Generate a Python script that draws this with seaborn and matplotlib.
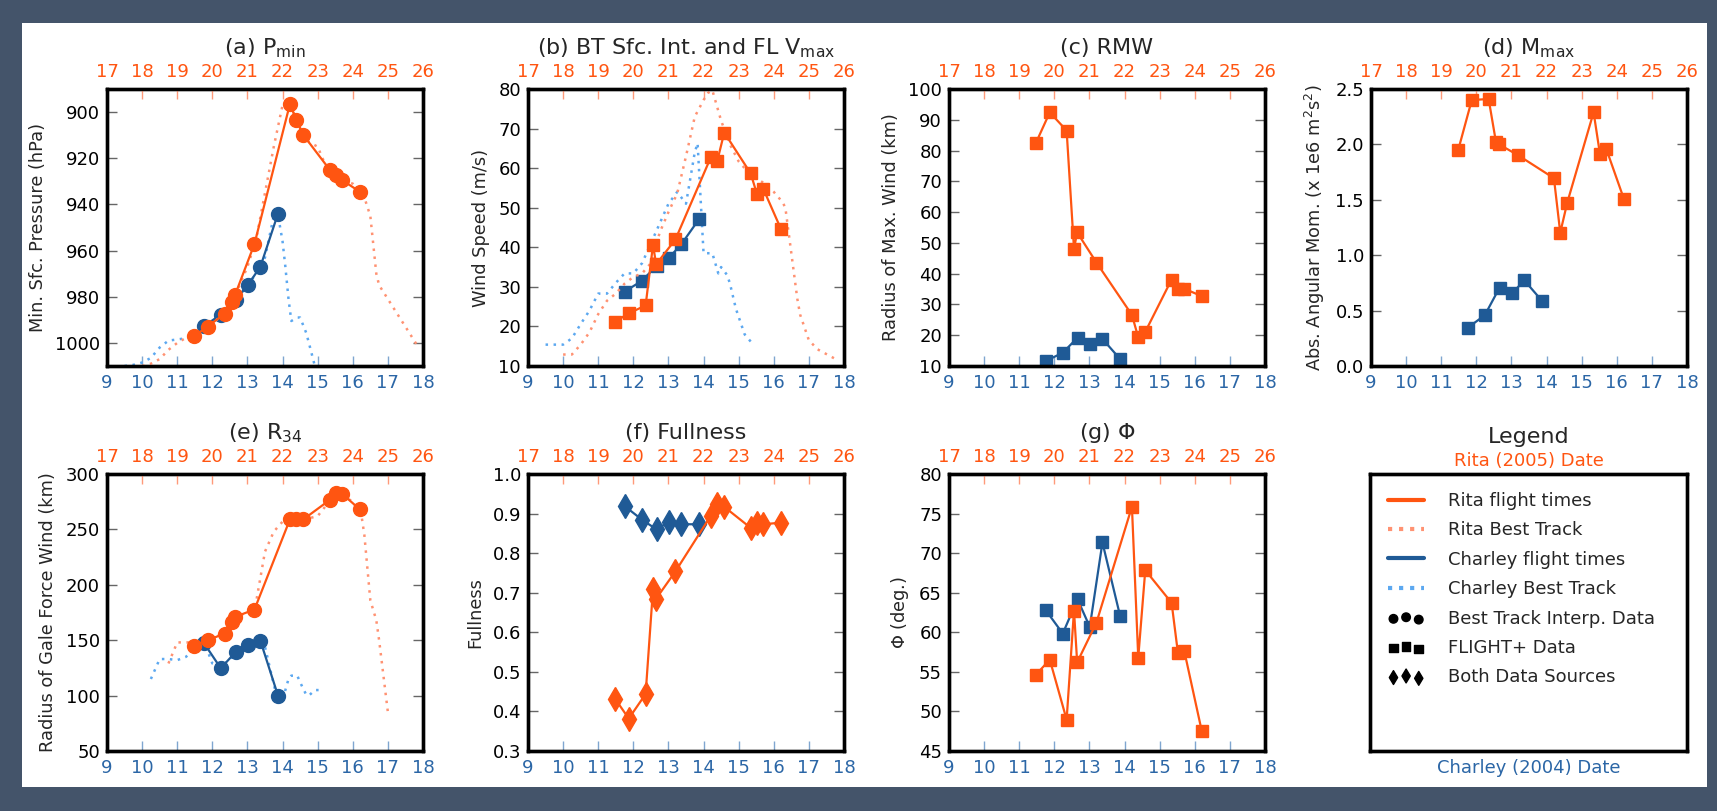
import numpy as np
import matplotlib
matplotlib.use("Agg")
import matplotlib.pyplot as plt
from matplotlib.patches import Rectangle
from matplotlib.lines import Line2D
import seaborn as sns

nan = np.nan

# ---------------- Flight (FLIGHT+) / interpolated data ----------------
# Rita times are in Rita (2005) September dates, Charley in Charley (2004) August dates
rita_t = np.array([19.48, 19.87, 20.35, 20.56, 20.65, 21.20, 22.21, 22.39, 22.59, 23.34, 23.52, 23.70, 24.20])
rita_pmin = np.array([997.1, 992.9, 987.3, 982.2, 979.1, 957.1, 896.5, 903.3, 909.9, 924.9, 927.1, 929.5, 934.5])
rita_vmax = np.array([21.2, 23.3, 25.3, 40.6, 35.7, 42.0, 62.8, 61.8, 69.0, 58.7, 53.5, 54.8, 44.7])
rita_rmw = np.array([82.6, 92.4, 86.5, 48.1, 53.4, 43.6, 26.6, 19.3, 21.1, 38.1, 35.1, 35.1, 32.7])
rita_mmax = np.array([1.945, 2.40, 2.41, 2.02, 2.00, 1.90, 1.695, 1.203, 1.475, 2.29, 1.915, 1.96, 1.51])
rita_r34 = np.array([145.2, 150.0, 156.0, 166.0, 171.1, 177.7, 259.0, 259.0, 259.0, 276.5, 282.5, 282.0, 268.1])
rita_full = np.array([0.432, 0.382, 0.444, 0.709, 0.685, 0.754, 0.895, 0.924, 0.917, 0.864, 0.875, 0.873, 0.877])
rita_phi = np.array([54.65, 56.55, 48.96, 62.75, 56.2, 61.23, 75.87, 56.8, 67.85, 63.72, 57.4, 57.66, 47.5])

char_t = np.array([11.75, 12.24, 12.66, 13.01, 13.37, 13.87])
char_pmin = np.array([992.8, 987.8, 981.3, 975.0, 966.9, 944.0])
char_vmax = np.array([28.8, 31.5, 35.3, 37.3, 40.8, 47.1])
char_rmw = np.array([11.6, 14.3, 19.2, 17.3, 18.8, 12.3])
char_mmax = np.array([0.344, 0.458, 0.706, 0.655, 0.772, 0.588])
char_r34 = np.array([147.9, 124.7, 139.2, 145.8, 149.4, 100.0])
char_full = np.array([0.919, 0.885, 0.860, 0.879, 0.873, 0.873])
char_phi = np.array([62.83, 59.84, 64.18, 60.68, 71.35, 62.12])

# ---------------- Best track ----------------
rbt_t = np.array([18.0, 18.25, 18.5, 18.75, 19.0, 19.25, 19.5, 19.75, 20.0, 20.25, 20.5, 20.75,
                  21.0, 21.25, 21.5, 21.75, 22.0, 22.125, 22.25, 22.5, 22.75, 23.0, 23.25, 23.5,
                  23.75, 24.0, 24.25, 24.33, 24.5, 24.67, 24.75, 25.0, 25.25, 25.5, 25.75, 25.85])
rbt_p = np.array([1010, 1009, 1007, 1003, 1000, 997.8, 996, 994, 992, 988, 983, 976,
                  967, 955, 935, 915, 897, 895, 898, 907, 913, 915, 924, 927,
                  930, 931, 935, 937, 945, 970, 975, 981, 987, 993, 999, 1001.5])
rbt_v = np.array([12.9, 12.9, 15.4, 18.5, 23.1, 26.5, 28.3, 30.8, 32.5, 33.4, 36.0, 43.7,
                  48.9, 53.6, 63.0, 73.0, 77.2, 79.0, 79.7, 72.0, 66.0, 61.7, 59.2, 57.5,
                  56.0, 54.0, 51.4, 50.0, 38.5, 27.0, 23.0, 16.5, 14.2, 13.0, 11.8, 11.4])
rbt_r34 = np.array([nan, nan, nan, 129, 148, 148, 148, 150, 152, 155, 163, 172,
                    175, 185, 230, 248, 257, 259, 259, 259, 260, 262, 272, 280,
                    280, 275, 262, 245, 186, 168, 150, 85, nan, nan, nan, nan])

cbt_t = np.array([9.5, 9.75, 10.0, 10.25, 10.5, 10.75, 11.0, 11.25, 11.5, 11.75, 12.0, 12.25,
                  12.5, 12.75, 13.0, 13.25, 13.5, 13.75, 13.83, 14.0, 14.08, 14.17, 14.25,
                  14.42, 14.5, 14.67, 14.75, 14.92, 15.17, 15.36])
cbt_p = np.array([1010, 1009.5, 1008.5, 1006.5, 1002, 999, 998.5, 998, 996, 993, 990.5, 988,
                  984, 980, 975, 970, 963, 945, 941, 956, 967, 981, 990.5,
                  989, 989, 995.5, 1000, 1010, nan, nan])
cbt_v = np.array([15.4, 15.4, 15.4, 17.0, 20.6, 24.0, 28.3, 28.3, 31.0, 33.4, 33.4, 36.0,
                  41.0, 46.0, 51.0, 54.0, 51.0, 64.0, 66.3, 38.5, 38.5, 38.5, 38.5,
                  33.4, 35.0, 33.0, 30.9, 24.5, 18.0, 16.0])
cbt_r34 = np.array([nan, nan, nan, 115, 133, 133, 132, 135, 143, 150, 129, 126,
                    133, 140, 145, 147, 144, 110, 100, 93, 105, 115, 118,
                    118, 112, 101, 100, 105, 105, nan])

# ---------------- Style ----------------
sns.set_style("ticks")
plt.rcParams["font.family"] = ["DejaVu Sans"]
plt.rcParams["mathtext.fontset"] = "dejavusans"

RITA = "#FF5511"
RITA_BT = "#FF9272"
CHAR = "#1F5A96"
CHAR_BT = "#5CA8F0"
CHAR_TXT = "#2B66A6"
BORDER = "#44546A"
DOT = (0, (1, 2.2))

W, H = 1717, 811
fig = plt.figure(figsize=(W / 100, H / 100), dpi=100)
fig.patch.set_facecolor(BORDER)
fig.add_artist(Rectangle((22 / W, 1 - 787 / H), (1707 - 22) / W, (787 - 23) / H,
                         transform=fig.transFigure, facecolor="white", edgecolor="none", zorder=-10))

lefts = [107 / W, 528 / W, 949 / W, 1371 / W]
aw = 316 / W
ah = 277 / H
top_b = 1 - 366 / H
bot_b = 1 - 751 / H


def style_axes(ax, ax2):
    ax.set_xlim(9, 18)
    ax2.set_xlim(17, 26)
    ax.set_xticks(range(9, 19))
    ax2.set_xticks(range(17, 27))
    ax.tick_params(axis="y", direction="in", left=True, right=True, color="#666666",
                   labelcolor="black", length=7, width=1, labelsize=13, pad=5)
    ax.tick_params(axis="x", direction="in", bottom=True, top=False, color="#7FA6D0",
                   labelcolor=CHAR_TXT, length=7, width=1, labelsize=13, pad=6)
    ax2.tick_params(axis="x", direction="in", top=True, bottom=False, color="#FF9A7A",
                    labelcolor=RITA, length=7, width=1, labelsize=13, pad=6)
    for a in (ax, ax2):
        for s in a.spines.values():
            s.set_linewidth(2.4)
            s.set_color("black")


def line(ax, x, y, color, marker=None, ms=9, ls="-", lw=1.6):
    m = ~np.isnan(y)
    kw = dict(x=x[m], y=y[m], ax=ax, color=color, linestyle=ls, linewidth=lw,
              sort=False, estimator=None)
    if marker is not None:
        kw.update(marker=marker, markersize=ms, markeredgecolor=color, markeredgewidth=1)
    sns.lineplot(**kw)


def panel(rect, title, ylabel, ylim, yticks, cy, ry, marker, ms, cbt=None, rbt=None):
    ax = fig.add_axes(rect)
    ax2 = ax.twiny()
    if cbt is not None:
        line(ax, cbt_t, cbt, CHAR_BT, ls=DOT, lw=1.8)
    line(ax, char_t, cy, CHAR, marker=marker, ms=ms)
    if rbt is not None:
        line(ax2, rbt_t, rbt, RITA_BT, ls=DOT, lw=1.8)
    line(ax2, rita_t, ry, RITA, marker=marker, ms=ms)
    style_axes(ax, ax2)
    ax.set_yticks(yticks)
    ax.set_ylim(*ylim)
    ax.set_xlabel("")
    ax2.set_xlabel("")
    ax2.set_ylabel("")
    ax.set_ylabel(ylabel, fontsize=12.8, labelpad=6)
    ax.set_title(title, fontsize=16, pad=6)
    return ax


panel([lefts[0], top_b, aw, ah], r"(a) P$_{\mathrm{min}}$", "Min. Sfc. Pressure (hPa)",
      (1010, 890), range(900, 1001, 20), char_pmin, rita_pmin, "o", 10, cbt_p, rbt_p)
panel([lefts[1], top_b, aw, ah], r"(b) BT Sfc. Int. and FL V$_{\mathrm{max}}$", "Wind Speed (m/s)",
      (10, 80), range(10, 81, 10), char_vmax, rita_vmax, "s", 9, cbt_v, rbt_v)
panel([lefts[2], top_b, aw, ah], "(c) RMW", "Radius of Max. Wind (km)",
      (10, 100), range(10, 101, 10), char_rmw, rita_rmw, "s", 9)
panel([lefts[3], top_b, aw, ah], r"(d) M$_{\mathrm{max}}$", r"Abs. Angular Mom. (x 1e6 m$^2$s$^2$)",
      (0, 2.5), np.arange(0, 2.51, 0.5), char_mmax, rita_mmax, "s", 9)
panel([lefts[0], bot_b, aw, ah], r"(e) R$_{34}$", "Radius of Gale Force Wind (km)",
      (50, 300), range(50, 301, 50), char_r34, rita_r34, "o", 10, cbt_r34, rbt_r34)
panel([lefts[1], bot_b, aw, ah], "(f) Fullness", "Fullness",
      (0.3, 1.0), np.arange(0.3, 1.01, 0.1), char_full, rita_full, "d", 12)
panel([lefts[2], bot_b, aw, ah], r"(g) $\Phi$", r"$\Phi$ (deg.)",
      (45, 80), range(45, 81, 5), char_phi, rita_phi, "s", 9)

# ---------------- Legend panel ----------------
axl = fig.add_axes([1370 / W, bot_b, 317 / W, ah])
axl.set_xticks([])
axl.set_yticks([])
axl.set_xlabel("Charley (2004) Date", color=CHAR_TXT, fontsize=13, labelpad=6)
axl2 = axl.twiny()
axl2.set_xticks([])
axl2.set_xlabel("Rita (2005) Date", color=RITA, fontsize=13, labelpad=6)
axl.set_title("Legend", fontsize=16, pad=6)
for a in (axl, axl2):
    for s in a.spines.values():
        s.set_linewidth(2.4)
        s.set_color("black")

handles = [
    Line2D([], [], color=RITA, lw=3),
    Line2D([], [], color=RITA_BT, lw=3, ls=":"),
    Line2D([], [], color=CHAR, lw=3),
    Line2D([], [], color=CHAR_BT, lw=3, ls=":"),
    axl.scatter([], [], marker="o", s=38, c="k"),
    axl.scatter([], [], marker="s", s=38, c="k"),
    axl.scatter([], [], marker="d", s=50, c="k"),
]
labels = ["Rita flight times", "Rita Best Track", "Charley flight times", "Charley Best Track",
          "Best Track Interp. Data", "FLIGHT+ Data", "Both Data Sources"]
axl.legend(handles, labels, loc="upper left", frameon=False, scatterpoints=3, fontsize=13,
           handlelength=2.0, handletextpad=1.3, labelspacing=0.63, borderaxespad=0.5,
           borderpad=0.5)

fig.savefig("out.png", dpi=100, facecolor=fig.get_facecolor())
